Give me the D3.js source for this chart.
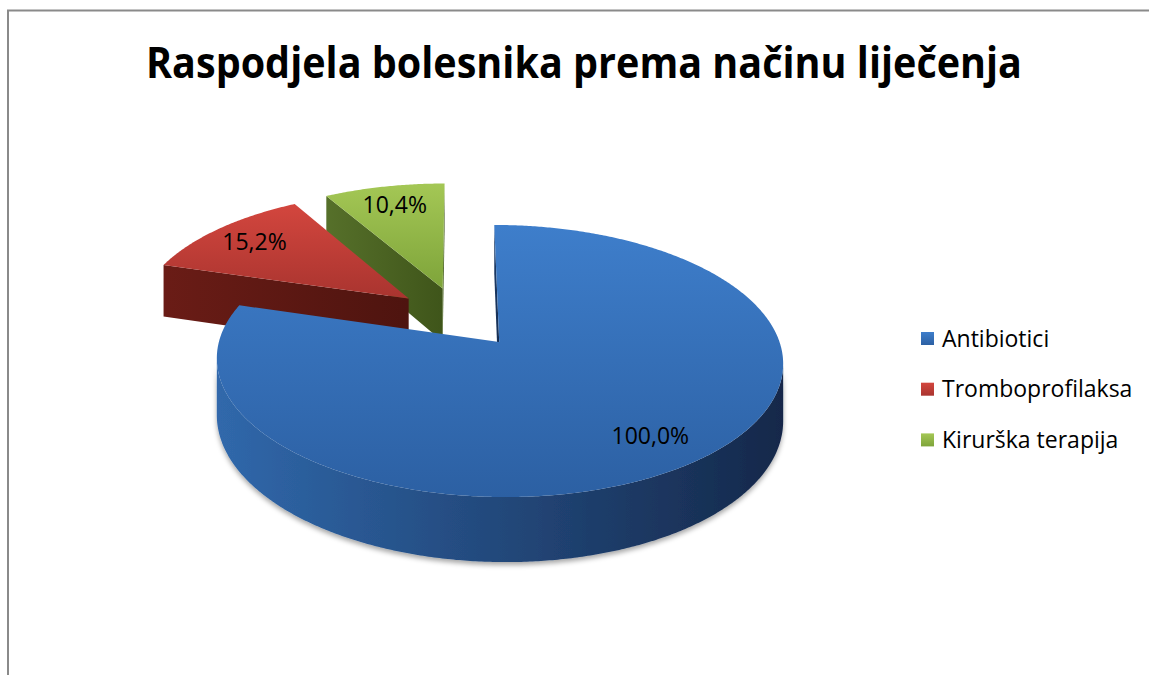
<!DOCTYPE html>
<html>
<head>
<meta charset="utf-8">
<script src="https://cdn.jsdelivr.net/npm/d3@7"></script>
<style>
  html, body { margin: 0; padding: 0; background: #fff; }
  svg { display: block; }
</style>
</head>
<body>
<svg id="chart"></svg>
<script>
//Chart Data
const categories = ["Antibiotici", "Tromboprofilaksa", "Kirurška terapija"];
const values = [100.0, 15.2, 10.4];
const title = "Raspodjela bolesnika prema načinu liječenja";

//Colours per slice: [light, dark] for top, side wall and cut face
const topColors = [["#3e7ecb", "#2c60a3"], ["#d3463e", "#a9342f"], ["#a4c755", "#7ea43a"]];
const wallColors = [["#3068ab", "#15284a"], ["#6e1e18", "#4a130f"], ["#5a7426", "#3e5318"]];
const faceColors = [["#1d3c68", "#142a4c"], ["#6a1c16", "#4e140f"], ["#56702a", "#3f551a"]];

const w = 1149;
const h = 675;

//Pie Geometry - flat disk seen in perspective
const cx = 459, cy = 317;
const rx = 273, ry = 126.5;
const depth = 54.5;
const persp = 0.136;
const explode = 0.24;

function project(X, Y, z){
  const k = 1 + persp * Y;
  return [cx + rx * X / k, cy + (-ry * Y + depth * z) / k];
}

const svg = d3.select("#chart").attr("width", w).attr("height", h);
const defs = svg.append("defs");

//Gradients
function gradient(id, colors, horizontal){
  const g = defs.append("linearGradient").attr("id", id)
    .attr("x1", 0).attr("y1", 0)
    .attr("x2", horizontal ? 1 : 0).attr("y2", horizontal ? 0 : 1);
  g.append("stop").attr("offset", "0%").attr("stop-color", colors[0]);
  g.append("stop").attr("offset", "100%").attr("stop-color", colors[1]);
}
categories.forEach((c, i) => {
  gradient("top-" + i, topColors[i], false);
  gradient("wall-" + i, wallColors[i], true);
  gradient("face-" + i, faceColors[i], true);
});

const shadow = defs.append("filter").attr("id", "shadow")
  .attr("x", "-10%").attr("y", "-10%").attr("width", "120%").attr("height", "130%");
shadow.append("feDropShadow").attr("dx", 0).attr("dy", 3).attr("stdDeviation", 2.5)
  .attr("flood-color", "#000").attr("flood-opacity", 0.35);

//Border of the chart area
svg.append("path")
   .attr("d", `M8,${h} V10.5 H${w}`)
   .attr("fill", "none")
   .attr("stroke", "#8a8a8a")
   .attr("stroke-width", 2);

//Title
const titleText = svg.append("text")
   .attr("x", 584)
   .attr("y", 78)
   .attr("text-anchor", "middle")
   .style("font-family", "'Open Sans', sans-serif")
   .style("font-weight", "bold")
   .style("font-size", "43px")
   .attr("fill", "#000")
   .text(title);
if (titleText.node().getComputedTextLength() > 876){
  titleText.attr("textLength", 876).attr("lengthAdjust", "spacingAndGlyphs");
}

//Pie Setup
const pie = d3.pie().sort(null).value(d => d);
const slices = pie(values).map((a, i) => {
  const mid = (a.startAngle + a.endAngle) / 2;
  return Object.assign({}, a, { i: i, mid: mid, ox: explode * Math.sin(mid), oy: explode * Math.cos(mid) });
});

function pt(s, ang, r, z){
  return project(s.ox + r * Math.sin(ang), s.oy + r * Math.cos(ang), z);
}
function sampleAngles(a0, a1){
  const n = Math.max(2, Math.ceil((a1 - a0) / (Math.PI / 360)));
  return d3.range(n + 1).map(j => a0 + (a1 - a0) * j / n);
}
function signedArea(pts){
  let s = 0;
  for (let j = 0; j < pts.length; j++){
    const p = pts[j], q = pts[(j + 1) % pts.length];
    s += p[0] * q[1] - q[0] * p[1];
  }
  return s / 2;
}
const line = d3.line();
const poly = pts => line(pts) + "Z";

const pieGroup = svg.append("g");

//Far slices first
const order = slices.slice().sort((a, b) => b.oy - a.oy);

order.forEach(s => {
  const g = pieGroup.append("g").attr("class", "slice");
  const angs = sampleAngles(s.startAngle, s.endAngle);

  //Outer wall: keep runs of segments facing the viewer
  let run = [];
  const runs = [];
  for (let j = 0; j < angs.length - 1; j++){
    const q = [pt(s, angs[j], 1, 0), pt(s, angs[j + 1], 1, 0), pt(s, angs[j + 1], 1, 1), pt(s, angs[j], 1, 1)];
    if (signedArea(q) < 0){
      if (run.length === 0) run.push(angs[j]);
      run.push(angs[j + 1]);
    } else if (run.length){
      runs.push(run); run = [];
    }
  }
  if (run.length) runs.push(run);

  runs.forEach(r => {
    const topPts = r.map(a => pt(s, a, 1, 0));
    const botPts = r.slice().reverse().map(a => pt(s, a, 1, 1));
    g.append("path")
     .attr("d", poly(topPts.concat(botPts)))
     .attr("fill", `url(#wall-${s.i})`)
     .attr("filter", "url(#shadow)");
  });

  //Cut faces
  const a0 = s.startAngle, a1 = s.endAngle;
  const faces = [
    [pt(s, a0, 0, 0), pt(s, a0, 1, 0), pt(s, a0, 1, 1), pt(s, a0, 0, 1)],
    [pt(s, a1, 1, 0), pt(s, a1, 0, 0), pt(s, a1, 0, 1), pt(s, a1, 1, 1)]
  ];
  faces.forEach(f => {
    if (signedArea(f) < 0){
      g.append("path")
       .attr("d", poly(f))
       .attr("fill", `url(#face-${s.i})`);
    }
  });

  //Top face
  const topFace = [pt(s, 0, 0, 0)].concat(angs.map(a => pt(s, a, 1, 0)));
  g.append("path")
   .attr("d", poly(topFace))
   .attr("fill", `url(#top-${s.i})`);
});

//Data Labels
const fmt = d3.formatLocale({ decimal: ",", thousands: ".", grouping: [3], currency: ["", ""] }).format(".1f");
slices.forEach(s => {
  const p = pt(s, s.mid, 0.8, 0);
  svg.append("text")
     .attr("x", p[0])
     .attr("y", p[1])
     .attr("dy", "0.36em")
     .attr("text-anchor", "middle")
     .style("font-family", "'Open Sans', sans-serif")
     .style("font-size", "23px")
     .attr("fill", "#000")
     .text(fmt(values[s.i]) + "%");
});

//Legend
const legend = svg.append("g").attr("transform", "translate(921, 338.5)");
const rows = legend.selectAll("g")
  .data(categories)
  .enter()
  .append("g")
  .attr("transform", (d, i) => `translate(0, ${i * 50.7})`);
rows.append("rect")
  .attr("x", 0).attr("y", -6.5)
  .attr("width", 13).attr("height", 13)
  .attr("fill", (d, i) => `url(#top-${i})`);
rows.append("text")
  .attr("x", 21)
  .attr("y", 8)
  .style("font-family", "'Open Sans', sans-serif")
  .style("font-size", "23px")
  .attr("fill", "#000")
  .text(d => d);
</script>
</body>
</html>
